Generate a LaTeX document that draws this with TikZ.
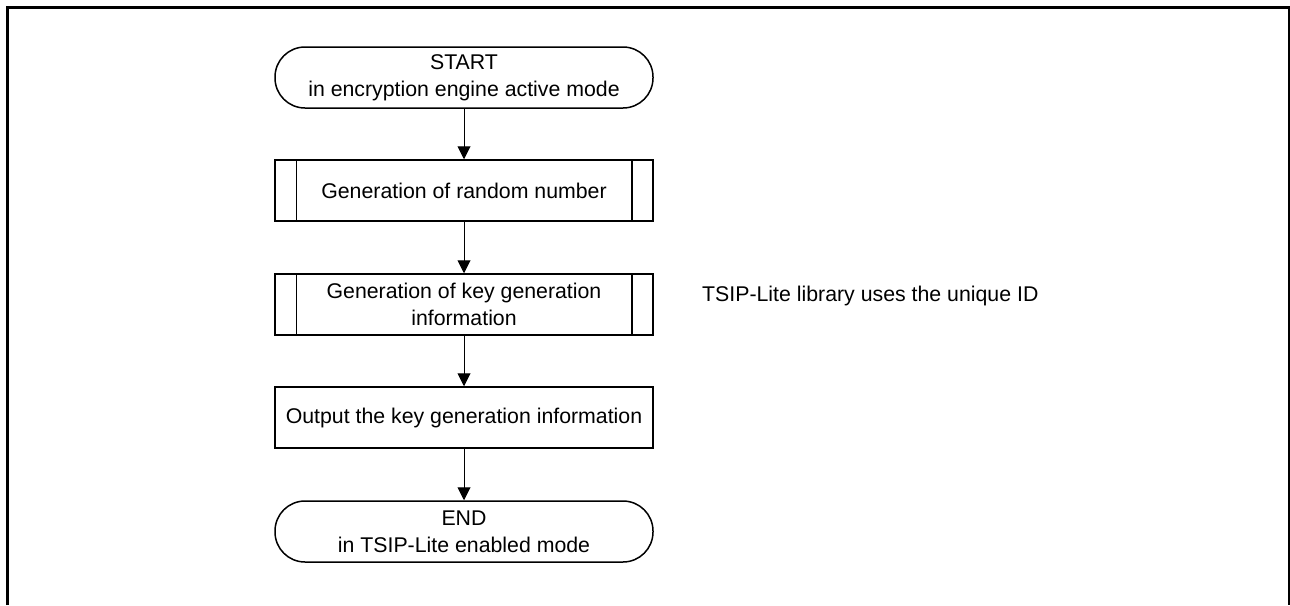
\documentclass[tikz,border=0pt]{standalone}
\usepackage{fontspec}
\setmainfont{Liberation Sans}
\usetikzlibrary{arrows.meta,positioning}
\begin{document}
\begin{tikzpicture}[x=1pt,y=-1pt,
  txt/.style={font=\fontsize{21.3}{27}\selectfont, align=center},
  term/.style={txt, draw, line width=1.5pt, rounded corners=30pt, minimum width=378pt, minimum height=61pt, inner sep=0pt},
  procbox/.style={txt, draw, line width=1.5pt, minimum width=378pt, minimum height=61pt, inner sep=0pt},
  sideline/.style={line width=1.5pt},
  flow/.style={draw, line width=1pt, -{Triangle[length=13pt,width=13pt]}}
]
\useasboundingbox (0,0) rectangle (1290,605);
\draw[line width=3pt] (7.5,605) -- (7.5,7.5) -- (1289,7.5) -- (1289,605);
\node[term] (start) at (464,77.5) {START\\in encryption engine active mode};
\node[procbox] (b1) at (464,190.5) {Generation of random number};
\draw[sideline] ([xshift=22pt]b1.north west) -- ([xshift=22pt]b1.south west)
  ([xshift=-22pt]b1.north east) -- ([xshift=-22pt]b1.south east);
\node[procbox] (b2) at (464,304.5) {Generation of key generation\\information};
\draw[sideline] ([xshift=22pt]b2.north west) -- ([xshift=22pt]b2.south west)
  ([xshift=-22pt]b2.north east) -- ([xshift=-22pt]b2.south east);
\node[procbox] (b3) at (464,417.5) {Output the key generation information};
\node[term] (end) at (464,531.5) {END\\in TSIP-Lite enabled mode};
\node[txt, anchor=west, inner sep=0pt] (note) at (702,296) {TSIP-Lite library uses the unique ID};
\draw[flow] (start) -- (b1);
\draw[flow] (b1) -- (b2);
\draw[flow] (b2) -- (b3);
\draw[flow] (b3) -- (end);
\end{tikzpicture}
\end{document}
